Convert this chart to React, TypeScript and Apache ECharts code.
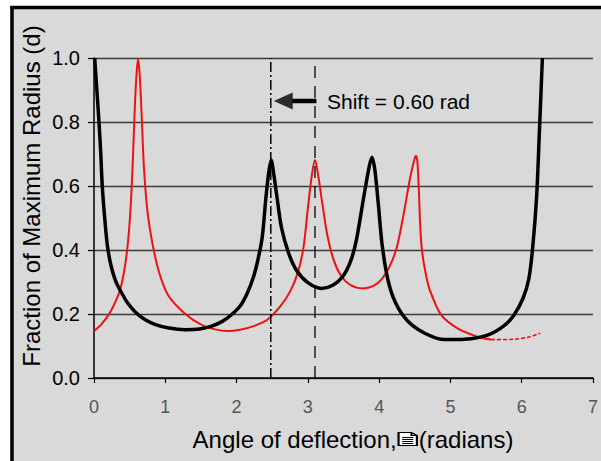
import React, { useEffect, useRef } from "react";
import * as echarts from "echarts";

// ---- data ----
const xTicks = [0, 1, 2, 3, 4, 5, 6, 7];
const yTicks = [0, 0.2, 0.4, 0.6, 0.8, 1.0];

const blackCurve: [number, number][] = [
  [0.01, 1.0], [0.04, 0.9], [0.07, 0.8], [0.095, 0.7], [0.116, 0.6], [0.15, 0.5],
  [0.19, 0.41], [0.24, 0.35], [0.3, 0.305], [0.365, 0.275], [0.47, 0.235], [0.586, 0.205], [0.72, 0.182],
  [0.863, 0.167], [1.05, 0.156], [1.28, 0.151], [1.48, 0.153], [1.65, 0.162], [1.8, 0.177],
  [1.92, 0.196], [2.05, 0.225], [2.15, 0.265], [2.24, 0.318], [2.3, 0.37], [2.36, 0.44],
  [2.41, 0.56], [2.45, 0.64], [2.485, 0.681], [2.52, 0.64], [2.57, 0.56], [2.63, 0.47], [2.73, 0.39], [2.845, 0.335],
  [3.0, 0.298], [3.19, 0.28], [3.35, 0.29], [3.49, 0.317], [3.6, 0.365], [3.68, 0.43],
  [3.78, 0.56], [3.86, 0.66], [3.9, 0.69], [3.94, 0.65], [3.99, 0.54], [4.04, 0.42], [4.12, 0.31], [4.23, 0.235],
  [4.4, 0.178], [4.64, 0.14], [4.92, 0.12], [5.2, 0.121], [5.52, 0.134], [5.75, 0.163],
  [5.89, 0.196], [6.02, 0.25], [6.1, 0.31], [6.155, 0.41], [6.21, 0.57], [6.25, 0.78],
  [6.29, 1.0],
];

const redCurve: [number, number][] = [
  [0.0, 0.147], [0.1, 0.167], [0.217, 0.202], [0.3, 0.238], [0.365, 0.275], [0.42, 0.33],
  [0.47, 0.41], [0.51, 0.52], [0.545, 0.68], [0.575, 0.86], [0.6, 0.96], [0.618, 0.996], [0.64, 0.95],
  [0.665, 0.84], [0.7, 0.66], [0.75, 0.52], [0.82, 0.42], [0.92, 0.325], [1.047, 0.256],
  [1.28, 0.2], [1.51, 0.166], [1.7, 0.152], [1.88, 0.147], [2.05, 0.151], [2.25, 0.163],
  [2.43, 0.182], [2.61, 0.223], [2.75, 0.27], [2.86, 0.33], [2.94, 0.41], [3.0, 0.53],
  [3.06, 0.64], [3.1, 0.681], [3.14, 0.64], [3.2, 0.55], [3.27, 0.45], [3.36, 0.37], [3.47, 0.318], [3.6, 0.29], [3.77, 0.28],
  [3.92, 0.288], [4.04, 0.31], [4.15, 0.35], [4.25, 0.41], [4.35, 0.52], [4.43, 0.62],
  [4.49, 0.68], [4.515, 0.694], [4.535, 0.68], [4.555, 0.6], [4.575, 0.48], [4.6, 0.4], [4.65, 0.33], [4.71, 0.275],
  [4.87, 0.197], [5.1, 0.155], [5.38, 0.129], [5.57, 0.12],
];

const redTail: [number, number][] = [
  [5.57, 0.12], [5.89, 0.121], [6.1, 0.128], [6.26, 0.14],
];

const shiftFrom = 2.48; // dash-dot marker
const shiftTo = 3.1; // dashed marker
const arrowY = 0.866;
const arrowStart = 3.12;
const arrowNeck = 2.78;
const arrowTip = 2.655;
const shiftLabel = "Shift = 0.60 rad";
const yTitle = "Fraction of Maximum Radius (d)";
const xTitleA = "Angle of deflection,";
const xTitleB = "(radians)";

const docIcon =
  "data:image/svg+xml;utf8," +
  encodeURIComponent(
    "<svg xmlns='http://www.w3.org/2000/svg' width='12' height='15'>" +
      "<path d='M1 1H8L11 4V14H1Z' fill='white' stroke='black' stroke-width='1.2'/>" +
      "<path d='M8 1V4H11' fill='none' stroke='black' stroke-width='1'/>" +
      "<path d='M3 6H9M3 8H9M3 10H9M3 12H9' stroke='black' stroke-width='1'/>" +
      "</svg>"
  );

export default function App() {
  const ref = useRef<HTMLDivElement>(null);

  useEffect(() => {
    if (!ref.current) return;
    const chart = echarts.init(ref.current, undefined, { renderer: "svg" });
    const font = "Arial, 'Liberation Sans', sans-serif";

    chart.setOption({
      animation: false,
      backgroundColor: "#d9d9d9",
      grid: { left: 94, top: 58, width: 506, height: 320, containLabel: false },
      xAxis: {
        type: "value",
        min: xTicks[0],
        max: xTicks[xTicks.length - 1],
        interval: 1,
        axisLine: { show: true, lineStyle: { color: "#000", width: 1.5 } },
        axisTick: { show: true, length: 5, lineStyle: { color: "#000", width: 1.2 } },
        axisLabel: { color: "#555", fontSize: 18, fontFamily: font, margin: 20 },
        splitLine: { show: false },
      },
      yAxis: {
        type: "value",
        min: yTicks[0],
        max: yTicks[yTicks.length - 1],
        interval: 0.2,
        axisLine: { show: true, lineStyle: { color: "#000", width: 1.5 } },
        axisTick: { show: true, length: 6, lineStyle: { color: "#000", width: 1.2 } },
        axisLabel: {
          color: "#000",
          fontSize: 20,
          fontFamily: font,
          margin: 14,
          formatter: (v: number) => v.toFixed(1),
        },
        splitLine: { show: true, lineStyle: { color: "#3c3c3c", width: 1.4 } },
      },
      series: [
        {
          name: "shifted",
          type: "line",
          data: redCurve,
          showSymbol: false,
          smooth: 0.3,
          lineStyle: { color: "#ee1111", width: 2 },
          z: 3,
        },
        {
          name: "shifted tail",
          type: "line",
          data: redTail,
          showSymbol: false,
          smooth: 0.3,
          lineStyle: { color: "#ee1111", width: 1.6, type: [4, 2] },
          z: 3,
        },
        {
          name: "original",
          type: "line",
          data: blackCurve,
          showSymbol: false,
          smooth: 0.3,
          lineStyle: { color: "#000", width: 3.5 },
          z: 4,
        },
        {
          name: "marker a",
          type: "line",
          data: [
            [shiftFrom, 0],
            [shiftFrom, 1],
          ],
          showSymbol: false,
          lineStyle: { color: "#000", width: 1.5, type: [10, 3, 2, 3] },
          z: 5,
        },
        {
          name: "marker b",
          type: "line",
          data: [
            [shiftTo, 0],
            [shiftTo, 1],
          ],
          showSymbol: false,
          lineStyle: { color: "#000", width: 1.3, type: [12, 8] },
          z: 5,
        },
        {
          name: "arrow shaft",
          type: "line",
          data: [
            [arrowStart, arrowY],
            [arrowNeck, arrowY],
          ],
          showSymbol: false,
          lineStyle: { color: "#000", width: 4.5 },
          z: 6,
        },
        {
          name: "arrow head",
          type: "scatter",
          data: [[arrowTip, arrowY]],
          symbol: "triangle",
          symbolRotate: 90,
          symbolSize: [17, 19],
          itemStyle: { color: "#000" },
          z: 6,
        },
      ],
      graphic: [
        { type: "rect", shape: { x: 0, y: 0, width: 10.5, height: 461 }, style: { fill: "#fff" }, silent: true },
        { type: "rect", shape: { x: 0, y: 0, width: 601, height: 6 }, style: { fill: "#fff" }, silent: true },
        { type: "line", shape: { x1: 12, y1: 6, x2: 12, y2: 461 }, style: { stroke: "#000", lineWidth: 3.5 }, silent: true },
        { type: "line", shape: { x1: 10.5, y1: 7.5, x2: 601, y2: 7.5 }, style: { stroke: "#000", lineWidth: 3.5 }, silent: true },
        {
          type: "text",
          x: 327,
          y: 101,
          style: {
            text: shiftLabel,
            fill: "#000",
            font: `21px ${font}`,
            textAlign: "left",
            textVerticalAlign: "middle",
          },
          z: 10,
        },
        {
          type: "text",
          x: 31,
          y: 196,
          rotation: Math.PI / 2,
          style: {
            text: yTitle,
            fill: "#000",
            font: `24px ${font}`,
            textAlign: "center",
            textVerticalAlign: "middle",
          },
          z: 10,
        },
        {
          type: "text",
          x: 353,
          y: 439,
          style: {
            text: xTitleA + "{icon|}" + xTitleB,
            fill: "#000",
            font: `24px ${font}`,
            textAlign: "center",
            textVerticalAlign: "middle",
            rich: {
              icon: {
                width: 13,
                height: 15,
                padding: [0, 7, 0, 2],
                backgroundColor: { image: docIcon },
              },
            },
          },
          z: 10,
        },
      ],
    });

    return () => chart.dispose();
  }, []);

  return (
    <div
      ref={ref}
      style={{ position: "absolute", left: 0, top: 0, width: 601, height: 461 }}
    />
  );
}
